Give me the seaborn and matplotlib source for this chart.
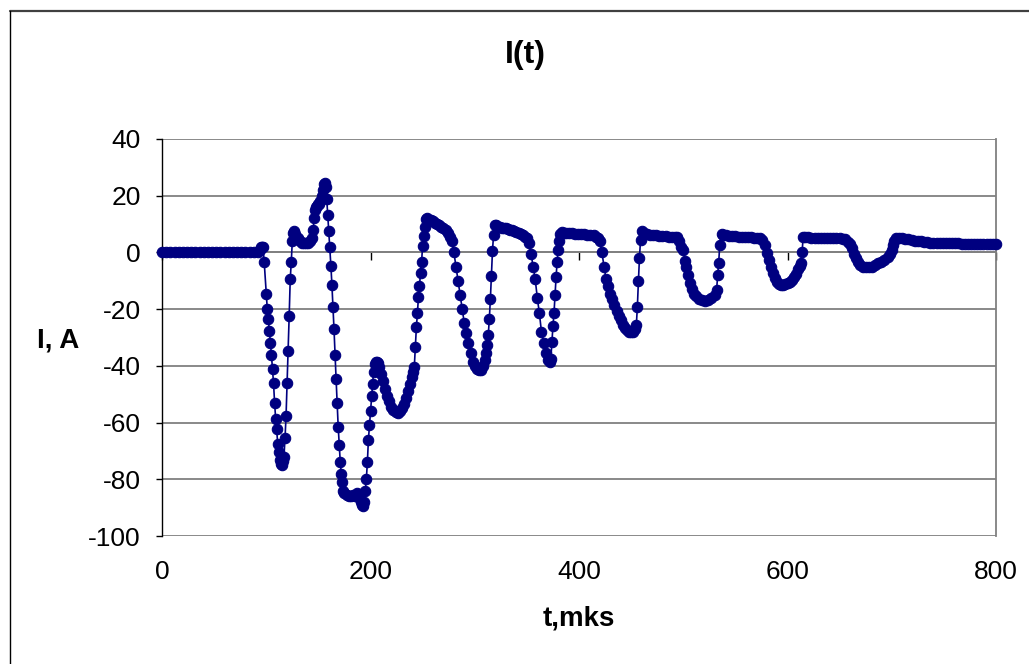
import matplotlib
matplotlib.use('Agg')
import matplotlib.pyplot as plt
from matplotlib.lines import Line2D
import seaborn as sns
import pandas as pd

# ---- data (time in microseconds, current in amperes) ----
t_us = [0, 4, 8, 12, 16, 20, 24, 28, 32, 36, 40, 44, 48, 52, 56, 60, 64, 68, 72, 76, 80, 84, 88, 92,
        94, 95, 96, 97, 98, 100, 101, 102, 103, 104, 105, 106, 107, 108, 109, 110, 111, 112, 113, 114, 115,
        116, 117, 118, 119, 120, 121, 122, 123, 124, 125, 126, 127, 128, 130, 132, 134, 136, 138, 140, 142, 144,
        145, 146, 147, 148, 149, 150, 151, 152, 153, 154, 155, 156, 157, 158, 159, 160, 161, 162, 163, 164, 165,
        166, 167, 168, 169, 170, 171, 172, 173, 174, 175, 177, 179, 181, 183, 185, 187, 189, 190, 191, 192, 193,
        194, 195, 196, 197, 198, 199, 200, 201, 202, 203, 204, 205, 206, 207, 208, 210, 212, 214, 216, 218, 220,
        222, 224, 226, 228, 230, 232, 234, 236, 238, 240, 241, 242, 243, 244, 245, 246, 247, 248, 249, 250, 251,
        252, 253, 254, 256, 258, 260, 262, 264, 266, 268, 270, 272, 274, 276, 278, 280, 282, 284, 286, 288, 290,
        292, 294, 296, 298, 300, 302, 304, 306, 308, 310, 311, 312, 313, 314, 315, 316, 317, 318, 319, 320, 322,
        324, 326, 328, 330, 332, 334, 336, 338, 340, 342, 344, 346, 348, 350, 352, 354, 356, 358, 360, 362, 364,
        366, 368, 370, 372, 373, 374, 375, 376, 377, 378, 379, 380, 381, 382, 384, 386, 388, 390, 393, 396, 399,
        402, 405, 408, 411, 414, 416, 418, 420, 422, 424, 426, 428, 430, 432, 434, 436, 438, 440, 442, 444, 446,
        448, 450, 452, 454, 455, 456, 457, 458, 459, 460, 462, 465, 468, 471, 474, 477, 480, 483, 486, 489, 492,
        494, 496, 498, 500, 502, 503, 505, 506, 508, 510, 512, 515, 518, 521, 524, 527, 530, 532, 533, 534, 535,
        537, 538, 541, 544, 547, 550, 553, 556, 559, 562, 565, 568, 571, 574, 576, 578, 580, 582, 584, 586, 588,
        590, 592, 594, 596, 598, 600, 602, 604, 606, 608, 610, 612, 613, 614, 615, 617, 620, 623, 626, 629, 632,
        635, 638, 641, 644, 647, 650, 653, 655, 658, 660, 662, 664, 666, 668, 670, 672, 675, 678, 681, 684, 687,
        690, 693, 696, 698, 700, 701, 702, 704, 707, 710, 713, 716, 719, 722, 725, 728, 731, 734, 737, 740, 743,
        746, 749, 752, 755, 758, 761, 764, 767, 770, 773, 776, 779, 782, 785, 788, 791, 794, 797, 800]

current_A = [0, 0, 0, 0, 0, 0, 0, 0, 0, 0, 0, 0, 0, 0, 0, 0, 0, 0, 0, 0, 0, 0, 0, 0.3,
             1, 1.8, 2, 1.8, -3.2, -14.7, -20, -23.5, -27.7, -31.8, -36.3, -41.2, -46.2, -53, -58.6, -62.4, -67.6, -70.4, -73.2, -74.6, -75,
             -73.5, -72, -65.6, -57.6, -46.2, -34.8, -22.3, -9.5, -3.3, 4, 7, 7.5, 6.5, 5, 4, 3.5, 3.5, 3.5, 3.5, 4, 5,
             8, 12, 15, 16, 16.5, 17, 17, 18, 20, 22, 24, 24.5, 23, 19, 13.2, 7.5, 1.8, -4.7, -11.5, -19.4, -27.1,
             -36.3, -44.7, -53.2, -61.4, -68, -74, -78, -81, -84, -85, -85.5, -86, -86, -85.5, -86, -85, -86, -87, -88, -89, -89.5,
             -88, -84, -80, -74, -66, -61, -56, -50.5, -46.5, -42, -39.5, -38.5, -38.5, -39, -40.5, -43, -45.5, -48, -50.5, -52.5, -54.5,
             -55.5, -56.2, -56.5, -56, -55, -53.5, -51.5, -49, -46.5, -44, -42, -40.5, -33.5, -26.4, -21.5, -15.6, -11.7, -7.4, -3.3, 2.4, 5.8,
             9, 11.7, 12, 11.5, 11.3, 11, 10.5, 10, 9.5, 9, 8.5, 8, 7, 5.5, 4, 0, -5, -10, -15, -20, -25,
             -28.5, -32, -35.5, -38.5, -40, -41, -41.5, -41.5, -40, -38, -35.6, -32.7, -29, -23.3, -16.4, -8.3, 0.5, 6, 9.7, 9.5, 9,
             8.8, 8.6, 8.5, 8.5, 8.2, 8, 7.8, 7.5, 7.2, 6.8, 6.5, 6, 5.5, 5, 3.5, -0.5, -5, -9.5, -16, -21.5, -28,
             -32, -35.5, -38, -38.5, -37.5, -31.5, -26, -21.5, -15, -8.8, -3.3, 0.8, 4, 6.5, 7.3, 7, 6.8, 6.7, 6.7, 6.6, 6.5,
             6.5, 6.4, 6.3, 6.2, 6, 5.5, 5, 4, 0, -5, -9.5, -12, -14.5, -16.5, -18.5, -20.5, -22.5, -24, -25.5, -26.5, -27.5,
             -28, -28, -28, -27, -25.6, -19.1, -10, -2, 4.4, 7.5, 7, 6.5, 6.2, 6, 6, 5.9, 5.8, 5.7, 5.6, 5.5, 5.5,
             5.3, 4, 2, 0.8, -3, -5, -8, -10.9, -13, -14.5, -15.5, -16.3, -16.8, -17, -16.8, -16, -15, -13.3, -8, -3.6, 2.6,
             6.5, 6, 6, 5.8, 5.7, 5.7, 5.5, 5.5, 5.5, 5.4, 5.3, 5.2, 5.1, 5, 4.5, 2.5, -0.3, -2.5, -5, -7.4, -9,
             -10.5, -11.3, -11.5, -11.5, -11.2, -10.8, -10.3, -9.7, -8.5, -7.5, -6, -4.8, -3.8, 0, 5.5, 5.5, 5.3, 5.2, 5.2, 5.2, 5.1,
             5.1, 5, 5, 5, 5, 5, 4.8, 4.6, 3.8, 3, 1.5, -0.5, -2, -3.5, -4.3, -5, -5.3, -5.3, -5, -4.5, -3.8,
             -3.2, -2.5, -1.5, -0.5, 0.8, 2.5, 4, 5, 5, 5, 4.8, 4.6, 4.4, 4.2, 4, 3.9, 3.8, 3.6, 3.5, 3.4, 3.3,
             3.3, 3.2, 3.2, 3.2, 3.2, 3.2, 3.2, 3.1, 3.1, 3.1, 3.1, 3.1, 3.1, 3.1, 3.1, 3.1, 3.1, 3.1, 3.1]

x_ticks = [0, 200, 400, 600, 800]
y_ticks = [-100, -80, -60, -40, -20, 0, 20, 40]
title_text = 'I(t)'
x_label = 't,mks'
y_label = 'I, A'

sns.set_style('white')
plt.rcParams['font.family'] = ['Liberation Sans', 'DejaVu Sans']
plt.rcParams['axes.unicode_minus'] = False
plt.rcParams['text.color'] = 'black'
plt.rcParams['xtick.color'] = 'black'
plt.rcParams['ytick.color'] = 'black'

W, H = 1029, 664
fig = plt.figure(figsize=(W / 100, H / 100), dpi=100)
fig.patch.set_facecolor('white')
L, R, T, B = 162, 996, 139, 536
ax = fig.add_axes([L / W, 1 - B / H, (R - L) / W, (B - T) / H])

df = pd.DataFrame({'t': t_us, 'I': current_A})
sns.lineplot(data=df, x='t', y='I', sort=False, estimator=None, ax=ax,
             color='#000080', linewidth=1.2, marker='o', markersize=7.5,
             markeredgewidth=0.8, markeredgecolor='#000080', clip_on=False, zorder=3)

ax.set_xlim(0, 800)
ax.set_ylim(-100, 40)
ax.set_yticks(y_ticks)
ax.set_xticks(x_ticks)
ax.yaxis.grid(True, color='#808080', linewidth=1.3)
ax.xaxis.grid(False)

# spines
ax.spines['left'].set_color('black')
ax.spines['left'].set_linewidth(1.0)
ax.spines['right'].set_color('#808080')
ax.spines['right'].set_linewidth(1.3)
ax.spines['top'].set_visible(False)
ax.spines['bottom'].set_position(('data', 0))
ax.spines['bottom'].set_color('#808080')
ax.spines['bottom'].set_linewidth(1.3)

ax.tick_params(axis='y', direction='out', length=4.3, width=1, color='black',
               labelcolor='black', labelsize=19, pad=11, left=True)
ax.tick_params(axis='x', direction='out', length=6, width=1, color='black',
               labelbottom=False, bottom=True)

# tick labels below the plot area
sec = ax.secondary_xaxis('bottom')
sec.set_xticks(x_ticks)
sec.tick_params(length=0, pad=17, labelsize=19, labelcolor='black')
sec.spines['bottom'].set_visible(False)

ax.set_xlabel('')
ax.set_ylabel('')
fig.text((L + R) / 2 / W, 1 - 618 / H, x_label, ha='center', va='center',
         fontsize=20, fontweight='bold', color='black')
fig.text(58 / W, 1 - 340 / H, y_label, ha='center', va='center',
         fontsize=20, fontweight='bold', color='black')
fig.text(525 / W, 1 - 55 / H, title_text, ha='center', va='center',
         fontsize=23, fontweight='bold', color='black')

# chart-area border (top and left edges visible)
fig.add_artist(Line2D([9.5 / W, 1], [1 - 11 / H, 1 - 11 / H], transform=fig.transFigure,
                      color='#404040', linewidth=1.6))
fig.add_artist(Line2D([9.5 / W, 9.5 / W], [0, 1 - 11 / H], transform=fig.transFigure,
                      color='black', linewidth=1.0))

fig.savefig('out.png', dpi=100, facecolor='white')
